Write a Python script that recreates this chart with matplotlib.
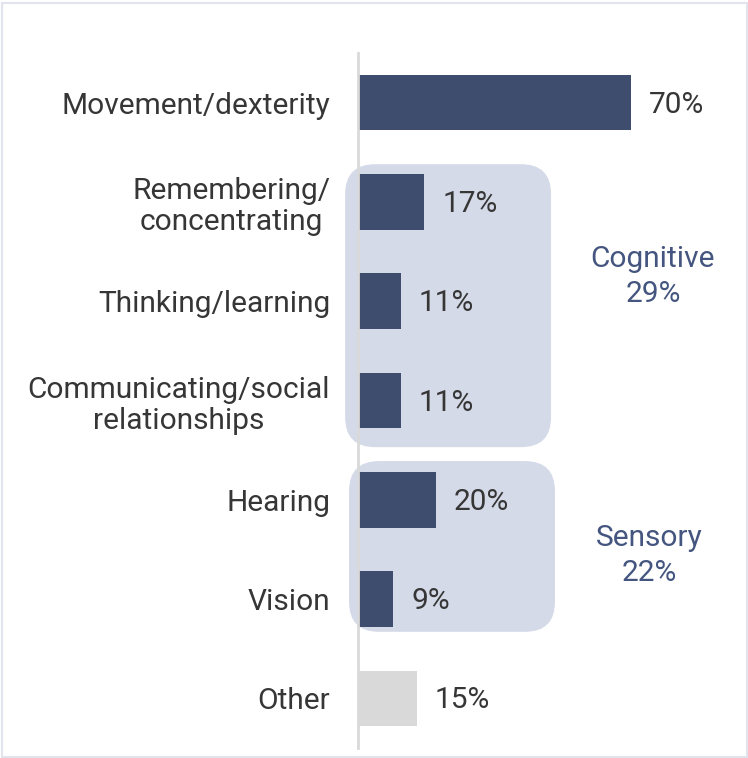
import matplotlib
matplotlib.use("Agg")
import matplotlib.pyplot as plt
from matplotlib.patches import FancyBboxPatch, Rectangle

# ---- data ----
categories = ["Movement/dexterity", "Remembering/\nconcentrating", "Thinking/learning",
              "Communicating/social\nrelationships", "Hearing", "Vision", "Other"]
values = [70, 17, 11, 11, 20, 9, 15]
value_labels = ["70%", "17%", "11%", "11%", "20%", "9%", "15%"]
group_names = ["Cognitive", "Sensory"]
group_totals = ["29%", "22%"]
group_members = [[1, 2, 3], [4, 5]]

# ---- style ----
FONT = "Roboto"
FS = 21.5
BAR = "#3E4C6E"
OTHER = "#D9D9D9"
TXT = "#363636"
GROUP_TXT = "#44557F"
BOX = "#D5DAE8"

W, H = 748, 758
fig = plt.figure(figsize=(W / 100, H / 100), dpi=100)
fig.patch.set_facecolor("white")

ax_left, ax_top, ax_bottom = 358, 53, 748
xmax = 100
px_per_unit = 3.9
ax = fig.add_axes([ax_left / W, (H - ax_bottom) / H,
                   (xmax * px_per_unit) / W, (ax_bottom - ax_top) / H])
ax.set_xlim(0, xmax)
ax.set_ylim(len(categories) - 0.5, -0.5)
ax.patch.set_alpha(0)

colors = [BAR] * 6 + [OTHER]
ypos = list(range(len(categories)))

# group boxes (behind bars)
y_unit_px = (ax_bottom - ax_top) / len(categories)
aspect = (1 / y_unit_px) / (1 / px_per_unit)
box_x = [(-3.3, 49.5), (-2.3, 50.5)]
box_pad = [(0.38, 0.47), (0.39, 0.33)]  # (top pad, bottom pad) in category units
for (x0, x1), (pt, pb), mem in zip(box_x, box_pad, group_members):
    y0 = min(mem) - pt
    y1 = max(mem) + pb
    p = FancyBboxPatch((x0, y0), x1 - x0, y1 - y0,
                       boxstyle="round,pad=0,rounding_size=7.7",
                       mutation_aspect=aspect, facecolor=BOX, edgecolor="none",
                       zorder=0, clip_on=False)
    ax.add_patch(p)

ax.barh(ypos, values, height=0.56, color=colors, zorder=2)

for y, v, lab in zip(ypos, values, value_labels):
    ax.annotate(lab, (v, y), xytext=(13, -1.5), textcoords="offset points",
                ha="left", va="center", fontsize=FS, family=FONT, color=TXT)

# group labels
group_xy = [(75.6, 1.75), (74.6, 4.56)]
for name, tot, (gx, gy) in zip(group_names, group_totals, group_xy):
    ax.text(gx, gy, f"{name}\n{tot}", ha="center", va="center", fontsize=FS,
            family=FONT, color=GROUP_TXT, linespacing=1.35)

ax.set_yticks(ypos)
ax.set_yticklabels(categories, fontsize=FS, family=FONT, color=TXT)
for t in ax.get_yticklabels():
    t.set_multialignment("center")
    t.set_linespacing(1.15)
ax.tick_params(axis="y", length=0, pad=20)
ax.set_xticks([])
for s in ["top", "right", "bottom"]:
    ax.spines[s].set_visible(False)
ax.spines["left"].set_color("#D9D9D9")
ax.spines["left"].set_linewidth(2)
ax.spines["left"].set_zorder(3)

# outer border
fig.patches.append(Rectangle((1.5 / W, 1 / H), 745 / W, 754 / H,
                             transform=fig.transFigure, fill=False,
                             edgecolor="#E1E4EC", linewidth=1.5))

fig.savefig("out.png", dpi=100)
